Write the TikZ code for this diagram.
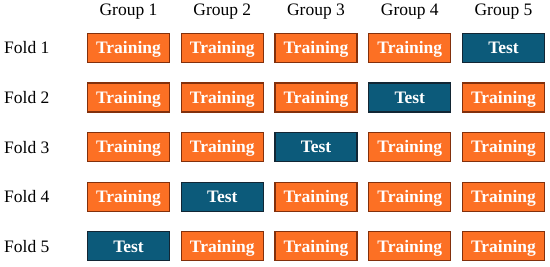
\documentclass[tikz,border=0pt]{standalone}
\usepackage{fontspec}
\setmainfont{Liberation Serif}
\usepackage{xcolor}
\definecolor{cvorange}{RGB}{252,112,36}
\definecolor{cvorangedark}{RGB}{130,48,12}
\definecolor{cvblue}{RGB}{12,90,122}
\definecolor{cvbluedark}{RGB}{18,38,52}
\usetikzlibrary{positioning}

\begin{document}
\begin{tikzpicture}[
  x=1pt,y=-1pt,
  fold/.style={draw,line width=1.2pt,minimum width=82pt,minimum height=29pt,inner sep=0pt,
    text height=11.3pt,text depth=0pt,
    font=\fontsize{17.5}{20}\selectfont\bfseries,text=white},
  train/.style={fold,fill=cvorange,draw=cvorangedark},
  test/.style={fold,fill=cvblue,draw=cvbluedark},
  hdr/.style={font=\fontsize{17.5}{20}\selectfont,inner sep=0pt},
  rowlab/.style={hdr,anchor=west}
]
  \useasboundingbox (0,0) rectangle (550,267);
  % Groups
  \node[hdr] (g1) at (128.5,12) {Group 1};
  \node[hdr] (g2) at (222.3,12) {Group 2};
  \node[hdr] (g3) at (316,12) {Group 3};
  \node[hdr] (g4) at (409.8,12) {Group 4};
  \node[hdr] (g5) at (503.5,12) {Group 5};
  % Folds
  \node[rowlab] (f1) at (4,48) {Fold 1};
  \node[rowlab] (f2) at (4,97.6) {Fold 2};
  \node[rowlab] (f3) at (4,147.2) {Fold 3};
  \node[rowlab] (f4) at (4,196.8) {Fold 4};
  \node[rowlab] (f5) at (4,246.4) {Fold 5};
  % Fold 1
  \node[train] (b11) at (128.5,48) {Training};
  \node[train] (b12) at (222.3,48) {Training};
  \node[train] (b13) at (316,48) {Training};
  \node[train] (b14) at (409.8,48) {Training};
  \node[test] (b15) at (503.5,48) {Test};
  % Fold 2
  \node[train] (b21) at (128.5,97.6) {Training};
  \node[train] (b22) at (222.3,97.6) {Training};
  \node[train] (b23) at (316,97.6) {Training};
  \node[test] (b24) at (409.8,97.6) {Test};
  \node[train] (b25) at (503.5,97.6) {Training};
  % Fold 3
  \node[train] (b31) at (128.5,147.2) {Training};
  \node[train] (b32) at (222.3,147.2) {Training};
  \node[test] (b33) at (316,147.2) {Test};
  \node[train] (b34) at (409.8,147.2) {Training};
  \node[train] (b35) at (503.5,147.2) {Training};
  % Fold 4
  \node[train] (b41) at (128.5,196.8) {Training};
  \node[test] (b42) at (222.3,196.8) {Test};
  \node[train] (b43) at (316,196.8) {Training};
  \node[train] (b44) at (409.8,196.8) {Training};
  \node[train] (b45) at (503.5,196.8) {Training};
  % Fold 5
  \node[test] (b51) at (128.5,246.4) {Test};
  \node[train] (b52) at (222.3,246.4) {Training};
  \node[train] (b53) at (316,246.4) {Training};
  \node[train] (b54) at (409.8,246.4) {Training};
  \node[train] (b55) at (503.5,246.4) {Training};
\end{tikzpicture}
\end{document}
